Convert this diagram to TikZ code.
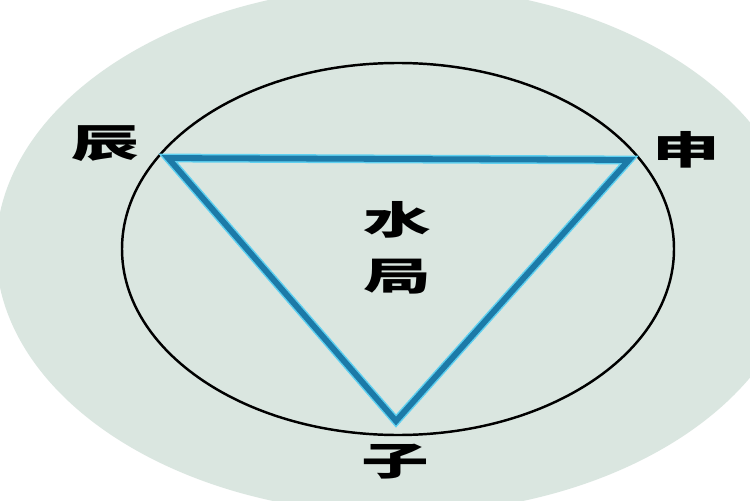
\documentclass[tikz,border=0pt]{standalone}
\usepackage{fontspec}
\newfontfamily\cjk{Noto Sans CJK SC}
\newcommand{\wide}[1]{\scalebox{1.75}[1]{#1}}
\definecolor{bgGreen}{RGB}{218,230,224}
\definecolor{lineBlue}{RGB}{28,122,168}
\definecolor{lineCyan}{RGB}{95,208,240}
\begin{document}
\begin{tikzpicture}[x=0.02cm,y=-0.02cm,
    zhi/.style={font=\cjk\bfseries\fontsize{22}{22}\selectfont, inner sep=0pt}]
    \useasboundingbox (0,0) rectangle (750,500);
    \fill[white] (0,0) rectangle (750,500);
    \clip (0,0) rectangle (750,500);
    \fill[bgGreen] (398,250) ellipse [x radius=402, y radius=264];

    \draw[line width=1.4pt] (398,249) ellipse [x radius=276, y radius=186];

    \coordinate (chenV) at (168,158);
    \coordinate (shenV) at (629,160);
    \coordinate (ziV) at (396,421);
    \draw[lineCyan, line width=5pt, line join=miter] (chenV) -- (shenV) -- (ziV) -- cycle;
    \draw[lineBlue, line width=3.3pt, line join=miter, yshift=-1.5] (chenV) -- (shenV) -- (ziV) -- cycle;

    \node[zhi] (chen) at (105,144) {\wide{辰}};
    \node[zhi] (shen) at (686,150) {\wide{申}};
    \node[zhi] (zi) at (395,462) {\wide{子}};
    \node[zhi] (shui) at (397,220) {\wide{水}};
    \node[zhi] (ju) at (397,277) {\wide{局}};
\end{tikzpicture}
\end{document}
